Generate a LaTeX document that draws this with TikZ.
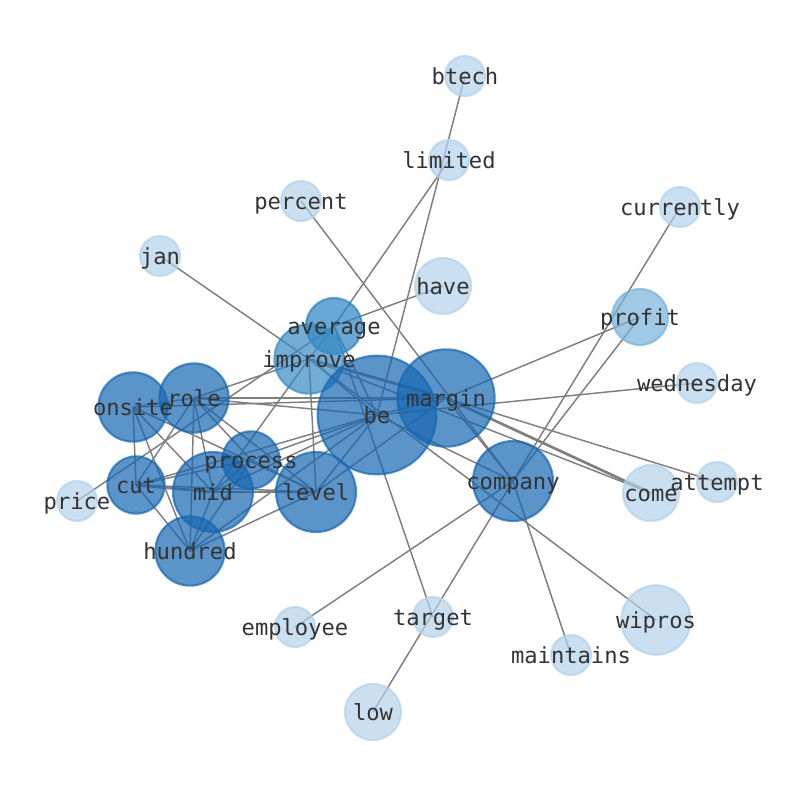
\documentclass[tikz,border=0pt]{standalone}
\usepackage{fontspec}
\setmonofont{DejaVu Sans Mono}
\usepackage{tikz}
\usetikzlibrary{backgrounds}
\definecolor{dkb}{HTML}{1666B1}
\definecolor{imb}{HTML}{378AC5}
\definecolor{avb}{HTML}{2983C2}
\definecolor{pfb}{HTML}{76B2D8}
\definecolor{ltb}{HTML}{B3D1EA}
\definecolor{lnkgray}{HTML}{7F7F7F}
\definecolor{ink}{HTML}{333333}

\begin{document}
\begin{tikzpicture}[x=0.75pt,y=-0.75pt, dot/.style={circle, inner sep=0pt, line width=1.6pt, opacity=0.7}, dk/.style={dot, fill=dkb, draw=dkb}, im/.style={dot, fill=imb, draw=imb}, av/.style={dot, fill=avb, draw=avb}, pf/.style={dot, fill=pfb, draw=pfb}, lt/.style={dot, fill=ltb, draw=ltb}, txt/.style={font=\ttfamily\fontsize{16.6}{18}\selectfont, text=ink, inner sep=0pt, text height=12.6pt, text depth=4pt, yshift=-1.8pt}, lnk/.style={draw=lnkgray, line width=1.1pt}, thk/.style={draw=lnkgray, line width=2pt}]
\useasboundingbox (0,0) rectangle (794,790);
% outer words
\node[lt,minimum size=30pt] (btech) at (465,76) {};\node[lt,minimum size=30pt] (limited) at (449,160) {};\node[lt,minimum size=30pt] (percent) at (301,201) {};
\node[lt,minimum size=30pt] (currently) at (680,207) {};\node[lt,minimum size=30pt] (jan) at (160,256) {};\node[lt,minimum size=42pt] (have) at (443,286) {};
\node[lt,minimum size=30pt] (wednesday) at (697,383) {};\node[lt,minimum size=30pt] (attempt) at (717,482) {};\node[lt,minimum size=42pt] (come) at (651,493) {};
\node[lt,minimum size=30pt] (price) at (77,501) {};\node[lt,minimum size=30pt] (employee) at (295,627) {};\node[lt,minimum size=30pt] (target) at (433,617) {};
\node[lt,minimum size=52pt] (wipros) at (656,620) {};\node[lt,minimum size=30pt] (maintains) at (571,655) {};\node[lt,minimum size=42pt] (low) at (373,712) {};
\node[pf,minimum size=42pt] (profit) at (640,317) {};
% inner words
\node[av,minimum size=42pt] (average) at (334,326) {};\node[im,minimum size=52pt] (improve) at (309,359) {};
\node[dk,minimum size=52pt] (onsite) at (133,407) {};\node[dk,minimum size=52pt] (role) at (194,398) {};\node[dk,minimum size=43pt] (process) at (251,460) {};
\node[dk,minimum size=43pt] (cut) at (136,485) {};\node[dk,minimum size=60pt] (mid) at (213,492) {};\node[dk,minimum size=60pt] (level) at (316,492) {};
\node[dk,minimum size=52pt] (hundred) at (190,551) {};\node[dk,minimum size=89pt] (be) at (377,415) {};\node[dk,minimum size=73pt] (margin) at (446,398) {};
\node[dk,minimum size=60pt] (company) at (513,481) {};

\begin{scope}[on background layer]
\draw[lnk] (btech.center)--(be.center);\draw[lnk] (limited.center)--(average.center);\draw[lnk] (percent.center)--(company.center);
\draw[lnk] (currently.center)--(company.center);\draw[lnk] (jan.center)--(improve.center);\draw[lnk] (have.center)--(average.center);
\draw[lnk] (profit.center)--(margin.center);\draw[lnk] (profit.center)--(company.center);\draw[lnk] (wednesday.center)--(be.center);
\draw[lnk] (attempt.center)--(margin.center);\draw[thk] (come.center)--(margin.center);\draw[lnk] (come.center)--(improve.center);
\draw[lnk] (wipros.center)--(improve.center);\draw[lnk] (maintains.center)--(company.center);\draw[lnk] (target.center)--(average.center);
\draw[lnk] (employee.center)--(company.center);\draw[lnk] (low.center)--(company.center);\draw[lnk] (price.center)--(average.center);
\draw[lnk] (onsite.center)--(role.center);\draw[lnk] (onsite.center)--(cut.center);\draw[lnk] (onsite.center)--(mid.center);
\draw[lnk] (onsite.center)--(hundred.center);\draw[lnk] (onsite.center)--(level.center);\draw[lnk] (onsite.center)--(margin.center);
\draw[lnk] (role.center)--(cut.center);\draw[lnk] (role.center)--(mid.center);\draw[lnk] (role.center)--(hundred.center);
\draw[lnk] (role.center)--(process.center);\draw[lnk] (role.center)--(level.center);\draw[lnk] (role.center)--(improve.center);
\draw[lnk] (role.center)--(margin.center);\draw[lnk] (role.center)--(be.center);
\draw[thk] (cut.center)--(mid.center);\draw[lnk] (cut.center)--(level.center);\draw[lnk] (cut.center)--(hundred.center);
\draw[lnk] (cut.center)--(be.center);\draw[lnk] (cut.center)--(process.center);
\draw[thk] (mid.center)--(level.center);\draw[lnk] (mid.center)--(hundred.center);\draw[lnk] (mid.center)--(process.center);
\draw[lnk] (mid.center)--(be.center);\draw[lnk] (mid.center)--(improve.center);
\draw[lnk] (hundred.center)--(level.center);\draw[lnk] (hundred.center)--(be.center);\draw[lnk] (hundred.center)--(process.center);
\draw[lnk] (process.center)--(be.center);\draw[lnk] (process.center)--(level.center);
\draw[lnk] (level.center)--(be.center);\draw[lnk] (level.center)--(improve.center);\draw[lnk] (level.center)--(margin.center);
\draw[lnk] (improve.center)--(be.center);\draw[thk] (improve.center)--(margin.center);\draw[lnk] (improve.center)--(average.center);
\draw[lnk] (average.center)--(be.center);\draw[lnk] (be.center)--(margin.center);\draw[lnk] (be.center)--(company.center);
\draw[lnk] (margin.center)--(company.center);
\end{scope}

% word labels
\node[txt] (btech-l) at (btech) {btech};\node[txt] (limited-l) at (limited) {limited};\node[txt] (percent-l) at (percent) {percent};
\node[txt] (currently-l) at (currently) {currently};\node[txt] (jan-l) at (jan) {jan};\node[txt] (have-l) at (have) {have};
\node[txt] (wednesday-l) at (wednesday) {wednesday};\node[txt] (attempt-l) at (attempt) {attempt};\node[txt] (come-l) at (come) {come};
\node[txt] (price-l) at (price) {price};\node[txt] (employee-l) at (employee) {employee};\node[txt] (target-l) at (target) {target};
\node[txt] (wipros-l) at (wipros) {wipros};\node[txt] (maintains-l) at (maintains) {maintains};\node[txt] (low-l) at (low) {low};
\node[txt] (profit-l) at (profit) {profit};\node[txt] (average-l) at (average) {average};\node[txt] (improve-l) at (improve) {improve};
\node[txt] (onsite-l) at (onsite) {onsite};\node[txt] (role-l) at (role) {role};\node[txt] (process-l) at (process) {process};
\node[txt] (cut-l) at (cut) {cut};\node[txt] (mid-l) at (mid) {mid};\node[txt] (level-l) at (level) {level};
\node[txt] (hundred-l) at (hundred) {hundred};\node[txt] (be-l) at (be) {be};\node[txt] (margin-l) at (margin) {margin};
\node[txt] (company-l) at (company) {company};
\end{tikzpicture}
\end{document}
